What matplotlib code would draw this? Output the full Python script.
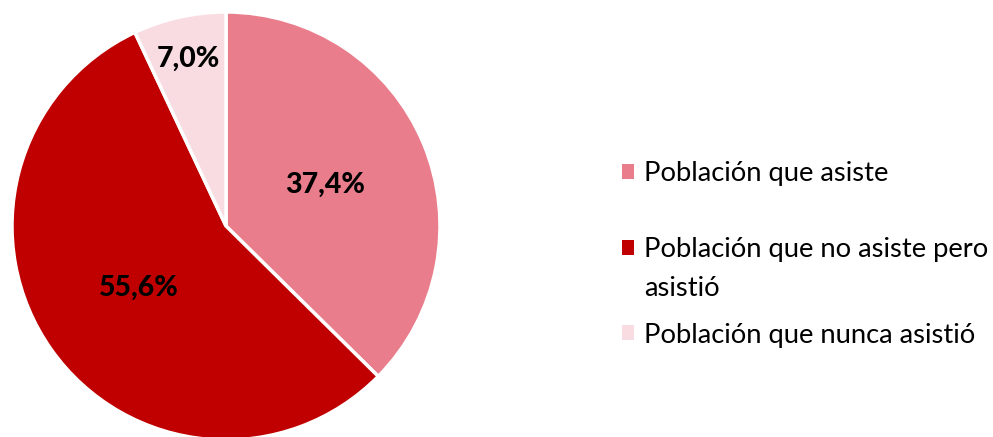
import matplotlib
matplotlib.use("Agg")
import matplotlib.pyplot as plt

labels = ["Población que asiste", "Población que no asiste pero asistió", "Población que nunca asistió"]
values = [37.4, 55.6, 7.0]
colors = ["#E97D8C", "#C00000", "#F9DCE1"]

plt.rcParams['font.family'] = ['Lato', 'DejaVu Sans']

W, H = 993, 437
fig = plt.figure(figsize=(W / 100, H / 100), dpi=100)
ax = fig.add_axes([0, 0, 1, 1])

cx, cy, r = 226, H - 226, 214
wedges, texts, autotexts = ax.pie(
    values, colors=colors, startangle=90, counterclock=False,
    center=(cx, cy), radius=r, frame=True,
    autopct=lambda p: f"{p:.1f}%".replace('.', ','), pctdistance=0.5,
    wedgeprops=dict(edgecolor='white', linewidth=2.5),
    textprops=dict(fontsize=20.5, fontweight='black', color='black'))
ax.set_xlim(0, W)
ax.set_ylim(0, H)
ax.set_aspect('equal')
ax.axis('off')

# move small-slice label further out
x, y = autotexts[2].get_position()
autotexts[2].set_position((cx + (x - cx) * 1.6, cy + (y - cy) * 1.6))

fs = 19.7
common = dict(frameon=False, fontsize=fs, handlelength=0.45, handleheight=0.45,
              handletextpad=0.35, borderpad=0, borderaxespad=0, loc='center left')

# Excel-style legend: entry 2 wraps, handle aligned with first line
wrap_first = "Población que no asiste pero"
wrap_rest = labels[1][len(wrap_first):].strip()
leg_labels = [labels[0], wrap_first, labels[2]]
leg_y = [174, 250, 335]
legs = []
for w, lab, yy in zip(wedges, leg_labels, leg_y):
    lg = fig.legend([w], [lab], bbox_to_anchor=(622 / W, 1 - yy / H), **common)
    for h in lg.legend_handles:
        h.set_edgecolor('none')
    legs.append(lg)

fig.canvas.draw()
bb = legs[1].get_texts()[0].get_window_extent()
fig.text(bb.x0 / W, 1 - 288 / H, wrap_rest, fontsize=fs, va='center', ha='left')

fig.savefig("out.png", dpi=100)
